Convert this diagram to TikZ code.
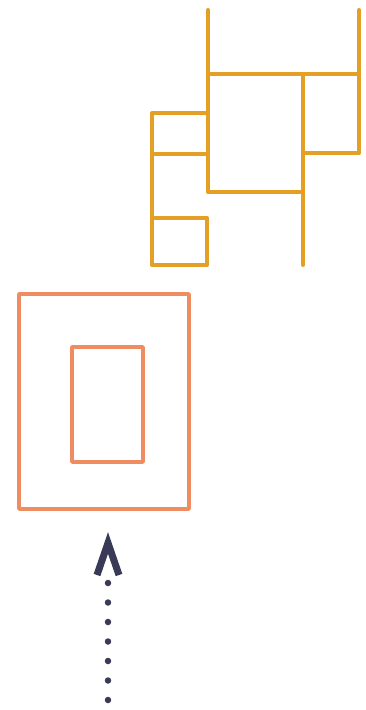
\documentclass[tikz,border=0pt]{standalone}
\usetikzlibrary{arrows.meta}
\definecolor{gold}{HTML}{E3A024}
\definecolor{salmon}{HTML}{F08C62}
\definecolor{navy}{HTML}{393A55}
\tikzset{
  goldline/.style={draw=gold,line width=4pt,line cap=round,line join=round},
  salmonline/.style={draw=salmon,line width=3.4pt,line join=round},
  dotline/.style={draw=navy,line width=6.5pt,line cap=round,dash pattern=on 0pt off 19.5pt},
  headline/.style={draw=navy,line width=7pt,line join=miter,line cap=butt}
}
\begin{document}
\begin{tikzpicture}[x=1pt,y=-1pt]
\useasboundingbox (0,0) rectangle (365,710);
% gold structure
\draw[goldline] (208,10) -- (208,192) -- (303,192);
\draw[goldline] (359,10) -- (359,153) -- (303,153);
\draw[goldline] (208,74) -- (359,74);
\draw[goldline] (303,74) -- (303,265);
\draw[goldline] (208,113) -- (152,113) -- (152,265) -- (207,265) -- (207,218) -- (152,218);
\draw[goldline] (152,154) -- (208,154);
% salmon frames
\draw[salmonline] (19,294) rectangle (189,509);
\draw[salmonline] (72,347) rectangle (143,462);
% dotted arrow
\coordinate (tail) at (108,700);
\coordinate (dotend) at (108,578);
\coordinate (apex) at (108,543);
\draw[dotline] (tail) -- (dotend);
\draw[headline] (97,575) -- (apex) -- (119,575);
\end{tikzpicture}
\end{document}
